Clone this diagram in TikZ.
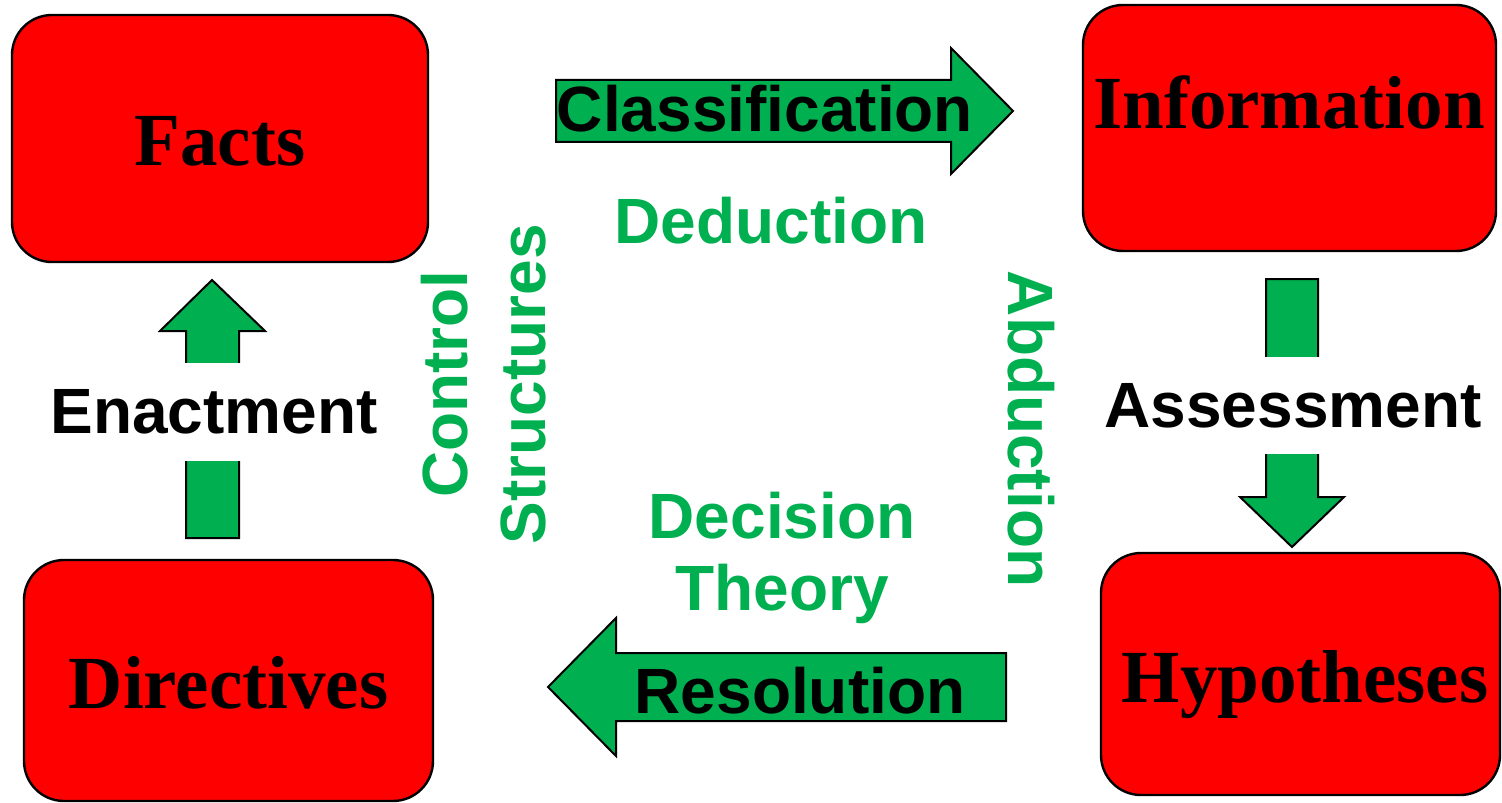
\documentclass[tikz,border=0pt]{standalone}
\usepackage{fontspec}
\setmainfont{Liberation Serif}
\setsansfont{Liberation Sans}
\definecolor{boxred}{HTML}{FF0000}
\definecolor{leafgreen}{HTML}{00B050}
\begin{document}
\begin{tikzpicture}[x=0.5pt,y=-0.5pt,
  redbox/.style={draw=black, line width=1.2pt, fill=boxred, rounded corners=20pt, inner sep=0pt},
  boxtext/.style={anchor=base, inner sep=0pt, text=black,
    font=\fontsize{37.5pt}{45pt}\selectfont\bfseries},
  blockarrow/.style={draw=black, line width=1pt, fill=leafgreen, line join=miter},
  arrowtext/.style={anchor=base, inner sep=0pt, text=black,
    font=\fontsize{32pt}{38pt}\selectfont\sffamily\bfseries},
  greentext/.style={anchor=base, inner sep=0pt, text=leafgreen,
    font=\fontsize{32pt}{38pt}\selectfont\sffamily\bfseries},
  gaplabel/.style={fill=white, inner sep=0pt, text=black,
    font=\fontsize{32pt}{38pt}\selectfont\sffamily\bfseries}
]
\useasboundingbox (0,0) rectangle (1502,802);

% the four red stages
\node[redbox, minimum width=208pt, minimum height=123.5pt] (facts) at (220,138.5) {};
\node[redbox, minimum width=206.5pt, minimum height=123pt] (info) at (1289.5,128) {};
\node[redbox, minimum width=204.5pt, minimum height=120.5pt] (dirs) at (228.5,680.5) {};
\node[redbox, minimum width=199.5pt, minimum height=121pt] (hyps) at (1300.5,674) {};

\node[boxtext] (factsT) at (220,166) {Facts};
\node[boxtext] (infoT) at (1289,129) {Information};
\node[boxtext] (dirsT) at (228.5,708) {Directives};
\node[boxtext] (hypsT) at (1305,702) {Hypotheses};

% horizontal block arrows
\draw[blockarrow] (556,80) -- (951,80) -- (951,48) -- (1013,111) -- (951,174)
  -- (951,142) -- (556,142) -- cycle;
\draw[blockarrow] (1006,653) -- (616,653) -- (616,618) -- (548,687) -- (616,756)
  -- (616,721) -- (1006,721) -- cycle;
\node[arrowtext] (classT) at (765,132) {Classification};
\node[arrowtext] (resT) at (800,713) {Resolution};

% vertical block arrows, interrupted by their labels
\draw[blockarrow] (186,538) -- (186,331) -- (160,331) -- (212,280) -- (265,331)
  -- (239,331) -- (239,538) -- cycle;
\draw[blockarrow] (1266,279) -- (1318,279) -- (1318,497) -- (1344,497) -- (1292,547)
  -- (1240,497) -- (1266,497) -- cycle;
\node[gaplabel, minimum height=49pt] (enactT) at (214,412) {Enactment};
\node[gaplabel, minimum height=48.5pt] (assessT) at (1293,405.5) {Assessment};

% reasoning modes
\node[greentext] (deducT) at (771,243) {Deduction};
\node[greentext] (decT1) at (782,538) {Decision};
\node[greentext] (decT2) at (782,610) {Theory};
\node[greentext, rotate=90] (ctrlT1) at (467,384) {Control};
\node[greentext, rotate=90] (ctrlT2) at (545,384) {Structures};
\node[greentext, rotate=-90] (abducT) at (1008,429) {Abduction};
\end{tikzpicture}
\end{document}
